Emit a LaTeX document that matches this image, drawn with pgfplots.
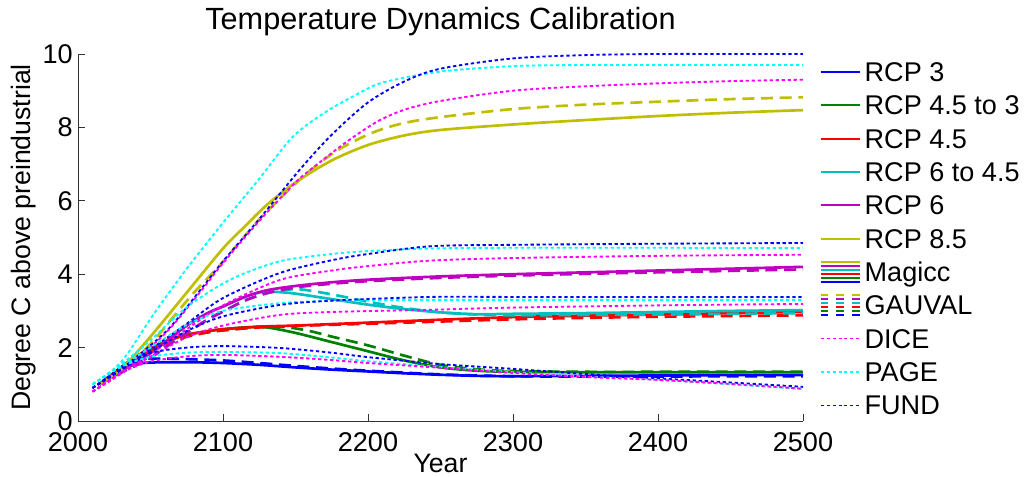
\documentclass[border=0pt]{standalone}
\usepackage{fontspec}
\setmainfont{Liberation Sans}
\usepackage{pgfplots}
\pgfplotsset{compat=1.18}

\definecolor{cB}{rgb}{0,0,1}
\definecolor{cG}{rgb}{0,0.5,0}
\definecolor{cR}{rgb}{1,0,0}
\definecolor{cT}{rgb}{0,0.75,0.75}
\definecolor{cM}{rgb}{0.75,0,0.75}
\definecolor{cO}{rgb}{0.75,0.75,0}
\definecolor{cDice}{rgb}{1,0,1}
\definecolor{cPage}{rgb}{0,1,1}
\definecolor{cFund}{rgb}{0,0,1}

\pgfplotsset{
  magicc/.style={line width=2pt, smooth, forget plot},
  gauval/.style={line width=2pt, smooth, dash pattern=on 9pt off 5pt, forget plot},
  iam/.style={line width=1.4pt, smooth, dash pattern=on 2.5pt off 2pt, forget plot},
}

\begin{document}
\begin{tikzpicture}
\path[use as bounding box] (-58.5pt,-42pt) rectangle (711pt,315.75pt);
\begin{axis}[
  at={(0pt,0pt)}, anchor=south west,
  scale only axis, width=543.75pt, height=275.25pt,
  xmin=2000, xmax=2500, ymin=0, ymax=10,
  xtick={2000,2100,2200,2300,2400,2500},
  ytick={0,2,4,6,8,10},
  axis lines*=left,
  axis line style={black!80, line width=0.6pt},
  tick style={black!80, line width=0.6pt},
  tick align=inside, major tick length=5pt,
  clip=false,
  /pgf/number format/assume math mode=true,
  /pgf/number format/1000 sep={},
  tick label style={font=\fontsize{20.3}{24}\selectfont},
  xticklabel style={anchor=base, yshift=-23pt},
  yticklabel style={anchor=east, inner sep=0pt, xshift=-3.75pt},
  title={Temperature Dynamics Calibration},
  title style={font=\fontsize{23}{27}\selectfont, at={(0.5,1)}, anchor=base, yshift=12.5pt},
  xlabel={Year},
  xlabel style={font=\fontsize{20}{24}\selectfont, at={(0.5,0)}, anchor=base, inner sep=0pt, text depth=0pt, yshift=-38.5pt},
  ylabel={Degree C above preindustrial},
  every axis y label/.style={at={(0,0.5)}, rotate=90, anchor=center, yshift=41pt, font=\fontsize{20}{24}\selectfont},
  legend image code/.code={\draw[#1] (0pt,0pt) -- (29pt,0pt);},
  legend cell align=left,
  legend style={at={(1,1)}, anchor=north west, xshift=12.75pt, yshift=-4.65pt,
    draw=none, fill=none, inner sep=0pt, outer sep=0pt,
    row sep=7.3pt, column sep=3pt,
    font=\fontsize{20.3}{24}\selectfont,
    nodes={inner sep=0pt, text height=16pt, text depth=1.7pt}},
]

% ---- Magicc (solid) ----
\addplot[magicc, cB] coordinates {(2015,1.00)(2025,1.27)(2035,1.48)(2045,1.58)(2060,1.60)(2080,1.60)(2100,1.58)(2125,1.53)(2150,1.46)(2175,1.40)(2200,1.35)(2225,1.30)(2250,1.26)(2275,1.23)(2300,1.22)(2350,1.23)(2400,1.24)(2450,1.25)(2500,1.25)};
\addplot[magicc, cG] coordinates {(2015,1.00)(2025,1.32)(2035,1.62)(2045,1.87)(2055,2.07)(2065,2.23)(2075,2.35)(2090,2.45)(2100,2.50)(2115,2.55)(2130,2.55)(2150,2.40)(2175,2.15)(2200,1.90)(2225,1.65)(2250,1.46)(2275,1.37)(2300,1.34)(2350,1.33)(2400,1.33)(2450,1.33)(2500,1.33)};
\addplot[magicc, cR] coordinates {(2015,1.00)(2025,1.32)(2035,1.62)(2045,1.87)(2055,2.07)(2065,2.23)(2075,2.35)(2090,2.45)(2100,2.50)(2125,2.57)(2150,2.60)(2175,2.64)(2200,2.68)(2250,2.76)(2300,2.83)(2350,2.87)(2400,2.90)(2450,2.94)(2500,2.97)};
\addplot[magicc, cT] coordinates {(2015,1.00)(2025,1.25)(2040,1.60)(2050,1.85)(2060,2.15)(2075,2.60)(2090,2.95)(2100,3.12)(2115,3.38)(2125,3.50)(2135,3.52)(2150,3.47)(2175,3.32)(2200,3.17)(2225,3.05)(2250,2.96)(2275,2.91)(2300,2.92)(2350,2.94)(2400,2.97)(2450,3.00)(2500,3.02)};
\addplot[magicc, cM] coordinates {(2015,1.00)(2025,1.25)(2040,1.60)(2050,1.85)(2060,2.15)(2075,2.60)(2090,2.95)(2100,3.12)(2115,3.38)(2130,3.56)(2150,3.68)(2175,3.78)(2200,3.85)(2250,3.94)(2300,4.00)(2350,4.05)(2400,4.10)(2450,4.15)(2500,4.20)};
\addplot[magicc, cO] coordinates {(2015,1.00)(2030,1.42)(2050,2.30)(2075,3.50)(2100,4.70)(2115,5.30)(2130,5.88)(2150,6.50)(2175,7.10)(2200,7.52)(2225,7.78)(2250,7.93)(2300,8.08)(2350,8.20)(2400,8.31)(2450,8.40)(2500,8.47)};

% ---- GAUVAL (dashed) ----
\addplot[gauval, cB] coordinates {(2015,1.00)(2025,1.32)(2035,1.56)(2045,1.68)(2060,1.70)(2080,1.68)(2100,1.65)(2125,1.58)(2150,1.50)(2175,1.43)(2200,1.37)(2250,1.27)(2300,1.22)(2350,1.21)(2400,1.21)(2450,1.22)(2500,1.22)};
\addplot[gauval, cG] coordinates {(2015,1.00)(2025,1.30)(2035,1.58)(2045,1.82)(2055,2.00)(2065,2.17)(2075,2.30)(2090,2.42)(2100,2.47)(2115,2.53)(2130,2.58)(2145,2.55)(2160,2.45)(2175,2.30)(2200,2.06)(2225,1.78)(2250,1.53)(2275,1.41)(2300,1.36)(2350,1.34)(2400,1.34)(2500,1.34)};
\addplot[gauval, cR] coordinates {(2015,1.00)(2025,1.30)(2035,1.58)(2045,1.82)(2055,2.00)(2065,2.17)(2075,2.30)(2090,2.42)(2100,2.47)(2125,2.55)(2150,2.59)(2200,2.65)(2250,2.71)(2300,2.77)(2350,2.81)(2400,2.84)(2450,2.86)(2500,2.88)};
\addplot[gauval, cT] coordinates {(2015,1.00)(2025,1.22)(2040,1.52)(2050,1.72)(2060,2.00)(2075,2.40)(2090,2.78)(2100,2.98)(2115,3.28)(2130,3.48)(2145,3.58)(2155,3.58)(2175,3.45)(2200,3.25)(2225,3.08)(2250,2.96)(2275,2.90)(2300,2.88)(2350,2.89)(2400,2.90)(2450,2.92)(2500,2.94)};
\addplot[gauval, cM] coordinates {(2015,1.00)(2025,1.22)(2040,1.52)(2050,1.72)(2060,2.00)(2075,2.40)(2090,2.78)(2100,2.98)(2115,3.28)(2130,3.48)(2150,3.64)(2175,3.74)(2200,3.81)(2250,3.90)(2300,3.96)(2350,4.01)(2400,4.05)(2450,4.09)(2500,4.13)};
\addplot[gauval, cO] coordinates {(2015,1.00)(2030,1.40)(2050,2.10)(2065,2.80)(2080,3.50)(2098,4.25)(2112,4.90)(2130,5.70)(2158,6.75)(2180,7.40)(2204,7.87)(2225,8.12)(2250,8.28)(2300,8.50)(2350,8.62)(2400,8.70)(2450,8.77)(2500,8.82)};

% ---- DICE / PAGE / FUND (dotted), RCP 8.5 ----
\addplot[iam, cPage] coordinates {(2010,1.00)(2030,1.62)(2052,2.90)(2075,4.15)(2100,5.40)(2125,6.60)(2148,7.74)(2170,8.40)(2190,8.85)(2210,9.22)(2250,9.52)(2300,9.67)(2350,9.70)(2400,9.70)(2450,9.70)(2500,9.70)};
\addplot[iam, cFund] coordinates {(2010,0.90)(2030,1.42)(2061,2.45)(2085,3.60)(2100,4.35)(2125,5.50)(2153,6.85)(2175,7.80)(2200,8.68)(2225,9.25)(2250,9.60)(2300,9.88)(2350,9.97)(2400,10.00)(2450,10.00)(2500,10.00)};
\addplot[iam, cDice] coordinates {(2010,0.80)(2030,1.32)(2061,2.42)(2085,3.55)(2100,4.30)(2125,5.45)(2150,6.50)(2162,6.90)(2185,7.60)(2206,8.15)(2225,8.48)(2250,8.72)(2300,9.00)(2350,9.12)(2400,9.20)(2450,9.26)(2500,9.30)};
% RCP 6
\addplot[iam, cPage] coordinates {(2010,1.00)(2030,1.55)(2050,2.20)(2075,3.10)(2105,3.85)(2139,4.35)(2175,4.55)(2200,4.63)(2243,4.70)(2300,4.72)(2400,4.72)(2500,4.71)};
\addplot[iam, cFund] coordinates {(2010,0.90)(2030,1.40)(2050,1.95)(2075,2.65)(2100,3.35)(2139,4.03)(2175,4.38)(2200,4.55)(2243,4.76)(2300,4.80)(2400,4.83)(2500,4.85)};
\addplot[iam, cDice] coordinates {(2010,0.80)(2030,1.30)(2050,1.82)(2075,2.50)(2100,3.15)(2139,3.84)(2175,4.10)(2200,4.22)(2243,4.37)(2300,4.44)(2400,4.50)(2500,4.53)};
% RCP 4.5
\addplot[iam, cPage] coordinates {(2010,1.00)(2030,1.50)(2050,2.00)(2075,2.62)(2100,3.00)(2139,3.21)(2175,3.27)(2243,3.30)(2300,3.30)(2400,3.30)(2500,3.30)};
\addplot[iam, cFund] coordinates {(2010,0.90)(2030,1.40)(2050,1.88)(2075,2.45)(2100,2.85)(2139,3.16)(2175,3.28)(2243,3.38)(2300,3.38)(2400,3.38)(2500,3.38)};
\addplot[iam, cDice] coordinates {(2010,0.80)(2030,1.30)(2050,1.75)(2075,2.28)(2100,2.60)(2139,2.89)(2175,2.97)(2243,3.03)(2300,3.09)(2400,3.15)(2500,3.19)};
% RCP 3
\addplot[iam, cFund] coordinates {(2010,0.90)(2030,1.45)(2050,1.85)(2075,2.00)(2100,2.04)(2139,1.99)(2175,1.86)(2200,1.74)(2250,1.55)(2300,1.42)(2350,1.28)(2400,1.16)(2450,1.05)(2500,0.93)};
\addplot[iam, cPage] coordinates {(2010,1.00)(2030,1.48)(2050,1.75)(2075,1.86)(2100,1.88)(2139,1.85)(2175,1.73)(2200,1.63)(2250,1.47)(2300,1.33)(2350,1.21)(2400,1.12)(2450,1.00)(2500,0.87)};
\addplot[iam, cDice] coordinates {(2010,0.80)(2030,1.32)(2050,1.62)(2075,1.76)(2100,1.80)(2139,1.75)(2175,1.66)(2200,1.58)(2250,1.45)(2300,1.31)(2350,1.20)(2400,1.12)(2450,1.01)(2500,0.88)};

% ---- legend ----
\addlegendimage{cB, line width=1.5pt}
\addlegendentry{RCP 3}
\addlegendimage{cG, line width=1.5pt}
\addlegendentry{RCP 4.5 to 3}
\addlegendimage{cR, line width=1.5pt}
\addlegendentry{RCP 4.5}
\addlegendimage{cT, line width=1.5pt}
\addlegendentry{RCP 6 to 4.5}
\addlegendimage{cM, line width=1.5pt}
\addlegendentry{RCP 6}
\addlegendimage{cO, line width=1.5pt}
\addlegendentry{RCP 8.5}
\addlegendimage{legend image code/.code={
  \draw[cO, line width=1.4pt] (0pt,7.5pt) -- (29pt,7.5pt);
  \draw[cM, line width=1.4pt] (0pt,4.5pt) -- (29pt,4.5pt);
  \draw[cT, line width=1.4pt] (0pt,1.5pt) -- (29pt,1.5pt);
  \draw[cR, line width=1.4pt] (0pt,-1.5pt) -- (29pt,-1.5pt);
  \draw[cG, line width=1.4pt] (0pt,-4.5pt) -- (29pt,-4.5pt);
  \draw[cB, line width=1.4pt] (0pt,-7.5pt) -- (29pt,-7.5pt);}}
\addlegendentry{Magicc}
\addlegendimage{legend image code/.code={
  \draw[cO, line width=1.4pt] (0pt,7.5pt) -- (5.5pt,7.5pt) (11.5pt,7.5pt) -- (17.5pt,7.5pt) (23.5pt,7.5pt) -- (29pt,7.5pt);
  \draw[cM, line width=1.4pt] (0pt,4.5pt) -- (5.5pt,4.5pt) (11.5pt,4.5pt) -- (17.5pt,4.5pt) (23.5pt,4.5pt) -- (29pt,4.5pt);
  \draw[cT, line width=1.4pt] (0pt,1.5pt) -- (5.5pt,1.5pt) (11.5pt,1.5pt) -- (17.5pt,1.5pt) (23.5pt,1.5pt) -- (29pt,1.5pt);
  \draw[cR, line width=1.4pt] (0pt,-1.5pt) -- (5.5pt,-1.5pt) (11.5pt,-1.5pt) -- (17.5pt,-1.5pt) (23.5pt,-1.5pt) -- (29pt,-1.5pt);
  \draw[cG, line width=1.4pt] (0pt,-4.5pt) -- (5.5pt,-4.5pt) (11.5pt,-4.5pt) -- (17.5pt,-4.5pt) (23.5pt,-4.5pt) -- (29pt,-4.5pt);
  \draw[cB, line width=1.4pt] (0pt,-7.5pt) -- (5.5pt,-7.5pt) (11.5pt,-7.5pt) -- (17.5pt,-7.5pt) (23.5pt,-7.5pt) -- (29pt,-7.5pt);}}
\addlegendentry{GAUVAL}
\addlegendimage{cDice, line width=1.2pt, dash pattern=on 2.2pt off 2.2pt}
\addlegendentry{DICE}
\addlegendimage{cPage, line width=1.2pt, dash pattern=on 2.2pt off 2.2pt}
\addlegendentry{PAGE}
\addlegendimage{cFund, line width=1.2pt, dash pattern=on 2.2pt off 2.2pt}
\addlegendentry{FUND}

\end{axis}
\end{tikzpicture}
\end{document}
